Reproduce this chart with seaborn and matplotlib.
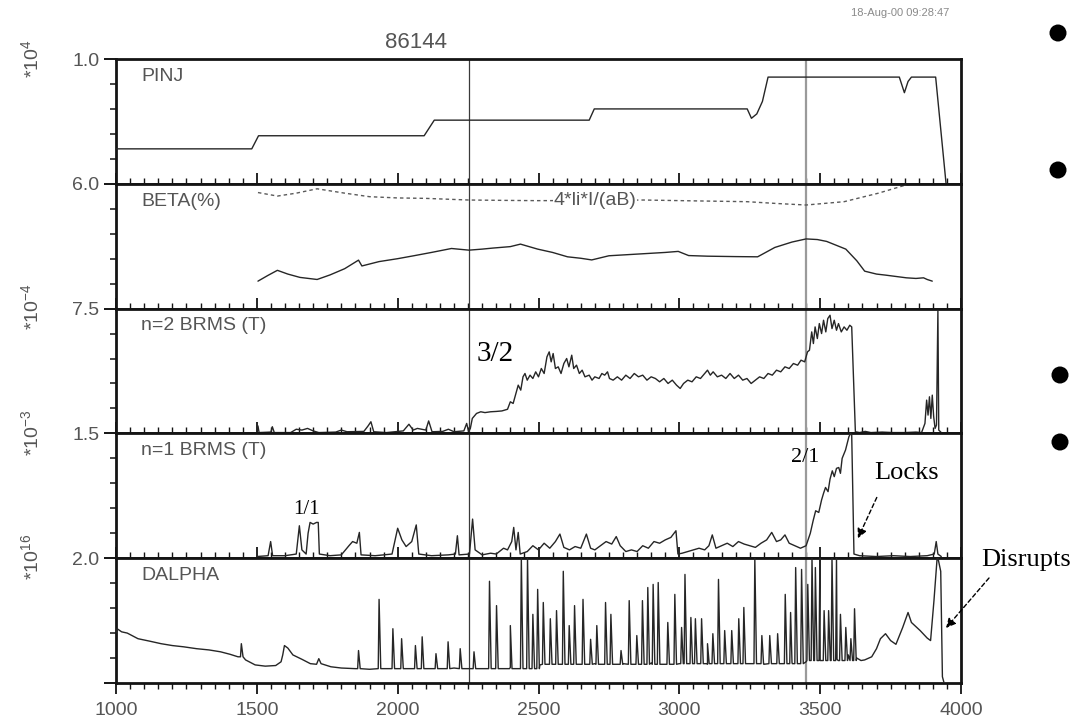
import matplotlib
matplotlib.use("Agg")
import matplotlib.pyplot as plt
from matplotlib.ticker import FixedLocator, MultipleLocator
import pandas as pd
import seaborn as sns

# ---------------- shot 86144 waveforms (time in ms) ----------------
# injected power, units of 1e4 kW
pinj_t = [1000, 1482, 1506, 2094, 2130, 2680, 2698, 3241, 3256, 3275, 3295, 3315,
          3781, 3799, 3812, 3824, 3910, 3947]
pinj_v = [0.28, 0.28, 0.385, 0.385, 0.51, 0.51, 0.60, 0.60, 0.525, 0.56, 0.66, 0.855,
          0.855, 0.73, 0.82, 0.855, 0.855, 0.0]

# beta (%)
beta_t = [1504, 1540, 1573, 1610, 1653, 1714, 1760, 1812, 1861, 1873, 1934, 2000,
          2057, 2120, 2191, 2253, 2300, 2338, 2400, 2436, 2497, 2550, 2603, 2650,
          2689, 2750, 2850, 2950, 2996, 3033, 3100, 3200, 3278, 3339, 3400, 3450,
          3490, 3523, 3591, 3630, 3658, 3700, 3732, 3806, 3840, 3867, 3880, 3898]
beta_v = [1.32, 1.60, 1.84, 1.66, 1.50, 1.40, 1.62, 1.92, 2.33, 2.05, 2.26, 2.40,
          2.54, 2.70, 2.89, 2.81, 2.86, 2.91, 2.98, 3.10, 2.86, 2.70, 2.49, 2.42,
          2.34, 2.54, 2.62, 2.70, 2.75, 2.55, 2.52, 2.50, 2.49, 2.94, 3.20, 3.35,
          3.32, 3.23, 2.86, 2.30, 1.80, 1.66, 1.61, 1.48, 1.45, 1.48, 1.40, 1.32]

# 4*li*I/(aB) reference curve
li_t = [1504, 1573, 1640, 1714, 1812, 1900, 2000, 2098, 2253, 2400, 2497, 2700,
        2873, 3050, 3240, 3350, 3450, 3585, 3707, 3806, 3880]
li_v = [5.58, 5.41, 5.55, 5.76, 5.55, 5.38, 5.32, 5.30, 5.22, 5.20, 5.19, 5.20,
        5.22, 5.18, 5.14, 5.05, 4.98, 5.14, 5.55, 5.95, 6.05]

# n=2 BRMS, units of 1e-4 T
n2_t = [1500, 1504, 1508, 1550, 1555, 1562, 1620, 1640, 1660, 1680,
        1700, 1720, 1780, 1800, 1820, 1880, 1895, 1905, 1915, 1960,
        2020, 2040, 2055, 2070, 2100, 2110, 2122, 2160, 2180, 2200,
        2235, 2245, 2252, 2258, 2265, 2280, 2295, 2310, 2330, 2350,
        2370, 2390, 2400, 2410, 2420, 2428, 2437, 2445, 2452, 2460,
        2470, 2480, 2490, 2500, 2510, 2520, 2530, 2538, 2545, 2552,
        2560, 2570, 2580, 2590, 2600, 2608, 2618, 2625, 2635, 2645,
        2655, 2665, 2680, 2690, 2700, 2715, 2725, 2735, 2745, 2752,
        2765, 2780, 2795, 2810, 2825, 2840, 2855, 2870, 2885, 2900,
        2915, 2930, 2945, 2960, 2975, 2990, 3003, 3015, 3030, 3045,
        3060, 3075, 3090, 3100, 3110, 3120, 3135, 3150, 3165, 3180,
        3195, 3210, 3225, 3240, 3255, 3270, 3285, 3300, 3315, 3330,
        3345, 3360, 3375, 3390, 3405, 3420, 3432, 3445, 3455, 3462,
        3470, 3476, 3482, 3490, 3497, 3505, 3512, 3520, 3527, 3535,
        3542, 3550, 3558, 3565, 3575, 3585, 3595, 3605, 3612, 3625,
        3640, 3660, 3680, 3720, 3760, 3800, 3840, 3860, 3872, 3878,
        3883, 3888, 3893, 3898, 3903, 3908, 3913, 3918, 3921, 3930]
n2_v = [0.05, 0.45, 0.05, 0.08, 0.40, 0.05, 0.05, 0.25, 0.20, 0.30,
        0.15, 0.05, 0.08, 0.20, 0.10, 0.12, 0.45, 0.70, 0.10, 0.05,
        0.15, 0.55, 0.20, 0.30, 0.20, 0.75, 0.10, 0.12, 0.25, 0.10,
        0.15, 0.60, 0.10, 0.30, 0.90, 1.20, 1.30, 1.25, 1.30, 1.32,
        1.35, 1.45, 1.90, 1.80, 2.40, 2.90, 2.60, 3.40, 3.60, 3.20,
        3.50, 3.30, 3.70, 3.40, 3.90, 3.60, 4.60, 4.90, 4.30, 4.80,
        3.90, 4.00, 3.60, 4.20, 4.50, 4.00, 4.70, 3.90, 4.10, 3.60,
        3.80, 3.40, 3.50, 3.20, 3.40, 3.30, 3.60, 3.50, 3.70, 3.30,
        3.20, 3.40, 3.20, 3.50, 3.30, 3.60, 3.40, 3.50, 3.20, 3.40,
        3.30, 3.10, 3.30, 3.00, 3.20, 2.90, 2.70, 3.00, 3.20, 3.10,
        3.40, 3.30, 3.60, 3.80, 3.50, 3.70, 3.40, 3.50, 3.30, 3.60,
        3.30, 3.50, 3.20, 3.30, 3.00, 3.20, 3.40, 3.30, 3.60, 3.50,
        3.80, 3.70, 4.00, 3.90, 4.20, 4.10, 4.40, 4.30, 4.90, 5.00,
        6.10, 5.40, 6.40, 5.70, 6.60, 6.00, 6.80, 6.10, 6.90, 7.10,
        6.30, 6.80, 6.20, 6.60, 6.10, 6.40, 6.20, 6.50, 6.40, 0.10,
        0.05, 0.12, 0.05, 0.08, 0.05, 0.05, 0.08, 0.05, 0.60, 2.00,
        1.10, 2.20, 0.90, 2.30, 1.00, 0.30, 0.50, 7.40, 0.20, 0.05]

# n=1 BRMS, units of 1e-3 T
n1_t = [1500, 1540, 1549, 1556, 1600, 1640, 1651, 1660, 1675, 1682,
        1689, 1700, 1712, 1718, 1722, 1760, 1800, 1827, 1840, 1855,
        1864, 1870, 1920, 1980, 2000, 2015, 2030, 2050, 2066, 2075,
        2120, 2180, 2205, 2212, 2218, 2255, 2266, 2275, 2300, 2330,
        2350, 2376, 2390, 2405, 2412, 2420, 2428, 2435, 2460, 2480,
        2500, 2520, 2540, 2560, 2576, 2590, 2610, 2630, 2650, 2670,
        2685, 2700, 2720, 2740, 2760, 2776, 2790, 2810, 2830, 2850,
        2870, 2890, 2910, 2930, 2950, 2970, 2988, 2995, 3010, 3030,
        3050, 3070, 3090, 3105, 3117, 3130, 3150, 3170, 3190, 3210,
        3230, 3250, 3270, 3290, 3310, 3328, 3345, 3360, 3375, 3390,
        3410, 3430, 3450, 3465, 3475, 3484, 3495, 3505, 3512, 3519,
        3528, 3535, 3543, 3550, 3558, 3566, 3572, 3578, 3590, 3602,
        3608, 3612, 3620, 3640, 3700, 3760, 3820, 3880, 3905, 3912,
        3918, 3930]
n1_v = [0.02, 0.03, 0.20, 0.03, 0.03, 0.05, 0.39, 0.10, 0.05, 0.30,
        0.43, 0.41, 0.43, 0.43, 0.05, 0.03, 0.04, 0.15, 0.20, 0.18,
        0.31, 0.04, 0.03, 0.05, 0.36, 0.22, 0.14, 0.20, 0.40, 0.05,
        0.03, 0.04, 0.05, 0.27, 0.04, 0.05, 0.47, 0.10, 0.04, 0.06,
        0.05, 0.12, 0.10, 0.20, 0.37, 0.10, 0.31, 0.05, 0.08, 0.15,
        0.10, 0.18, 0.12, 0.20, 0.29, 0.13, 0.10, 0.14, 0.12, 0.29,
        0.12, 0.10, 0.15, 0.20, 0.17, 0.26, 0.15, 0.08, 0.10, 0.08,
        0.15, 0.12, 0.20, 0.18, 0.22, 0.25, 0.33, 0.05, 0.06, 0.08,
        0.10, 0.12, 0.10, 0.15, 0.28, 0.12, 0.15, 0.18, 0.14, 0.20,
        0.17, 0.15, 0.13, 0.18, 0.22, 0.31, 0.20, 0.22, 0.28, 0.18,
        0.15, 0.12, 0.15, 0.30, 0.45, 0.57, 0.55, 0.70, 0.78, 0.85,
        0.80, 0.95, 1.05, 0.98, 1.08, 1.09, 1.02, 1.20, 1.30, 1.46,
        1.50, 1.48, 0.05, 0.03, 0.02, 0.03, 0.02, 0.03, 0.05, 0.20,
        0.05, 0.02]

# D-alpha, units of 1e16: slow background plus ELM spikes
dalpha_base_t = [1000, 1004, 1020, 1040, 1078, 1120, 1160, 1200, 1240, 1286,
                 1330, 1371, 1405, 1433, 1460, 1494, 1530, 1567, 1586, 1592,
                 1598, 1610, 1628, 1660, 1690, 1712, 1720, 1728, 1763, 1800,
                 1849, 1900, 2000, 2100, 2200, 2300, 2400, 2505, 2600, 2700,
                 2800, 2900, 3000, 3100, 3200, 3300, 3400, 3450, 3500, 3560,
                 3600, 3630, 3645, 3658, 3683, 3700, 3714, 3732, 3750, 3769,
                 3793, 3812, 3824, 3855, 3880, 3892, 3904, 3916, 3928, 3934,
                 3940]
dalpha_base_v = [0.80, 0.87, 0.82, 0.80, 0.71, 0.67, 0.63, 0.60, 0.58, 0.55,
                 0.53, 0.50, 0.46, 0.42, 0.37, 0.29, 0.27, 0.28, 0.34, 0.45,
                 0.60, 0.56, 0.45, 0.38, 0.31, 0.30, 0.39, 0.31, 0.26, 0.24,
                 0.23, 0.22, 0.23, 0.23, 0.24, 0.23, 0.25, 0.29, 0.30, 0.31,
                 0.31, 0.32, 0.31, 0.30, 0.31, 0.30, 0.33, 0.34, 0.36, 0.38,
                 0.45, 0.40, 0.36, 0.37, 0.42, 0.55, 0.71, 0.79, 0.68, 0.62,
                 0.89, 1.13, 0.97, 0.84, 0.72, 0.68, 1.32, 2.05, 1.79, 0.10,
                 0.0]
spike_t = [1445, 1861, 1934, 1983, 2014, 2063, 2087, 2136, 2179, 2222,
           2271, 2326, 2351, 2400, 2439, 2461, 2480, 2497, 2517, 2542,
           2564, 2588, 2609, 2628, 2658, 2685, 2707, 2738, 2757, 2793,
           2822, 2849, 2869, 2888, 2907, 2925, 2959, 2984, 3008, 3020,
           3041, 3057, 3079, 3100, 3119, 3139, 3161, 3186, 3211, 3229,
           3268, 3293, 3321, 3349, 3376, 3395, 3413, 3434, 3456, 3471,
           3483, 3499, 3514, 3530, 3542, 3558, 3572, 3591, 3609, 3622]
spike_peak = [0.63, 0.52, 1.34, 0.87, 0.71, 0.60, 0.74, 0.47, 0.66, 0.55,
              0.50, 1.63, 1.24, 0.92, 2.00, 2.00, 1.10, 1.50, 1.29, 1.03,
              1.16, 1.79, 0.92, 1.24, 1.34, 0.70, 0.92, 1.29, 1.10, 0.52,
              1.32, 0.76, 1.32, 1.53, 1.58, 1.61, 0.97, 1.42, 0.89, 1.74,
              1.05, 1.03, 1.03, 0.63, 0.79, 1.66, 0.84, 0.84, 1.03, 1.21,
              2.00, 0.76, 0.76, 0.79, 1.42, 1.13, 1.85, 1.82, 1.58, 2.00,
              1.85, 2.00, 1.16, 1.16, 2.00, 2.00, 1.10, 0.89, 0.71, 1.19]
spike_foot = [0.42, 0.23, 0.23, 0.23, 0.23, 0.23, 0.23, 0.23, 0.23, 0.23,
              0.23, 0.23, 0.23, 0.23, 0.23, 0.23, 0.23, 0.23, 0.30, 0.30,
              0.30, 0.30, 0.30, 0.30, 0.30, 0.30, 0.30, 0.30, 0.30, 0.30,
              0.30, 0.30, 0.30, 0.30, 0.30, 0.30, 0.30, 0.30, 0.31, 0.31,
              0.31, 0.31, 0.31, 0.31, 0.31, 0.31, 0.31, 0.31, 0.31, 0.31,
              0.31, 0.31, 0.31, 0.31, 0.31, 0.31, 0.31, 0.31, 0.36, 0.36,
              0.36, 0.36, 0.36, 0.36, 0.36, 0.36, 0.36, 0.36, 0.36, 0.36]

panel_names = ["PINJ", "BETA(%)", "n=2 BRMS (T)", "n=1 BRMS (T)", "DALPHA"]
panel_top = [1.0, 6.0, 7.5, 1.5, 2.0]
top_labels = ["1.0", "6.0", "7.5", "1.5", "2.0"]
x_ticks = [1000, 1500, 2000, 2500, 3000, 3500, 4000]
marker_times = [2253, 3450]

# ---------------- assemble traces ----------------
dalpha_pts = list(zip(dalpha_base_t, dalpha_base_v))
for t, p, f in zip(spike_t, spike_peak, spike_foot):
    dalpha_pts += [(t - 3, f), (t, p), (t + 6, f)]
dalpha_pts.sort()
dalpha = pd.DataFrame(dalpha_pts, columns=["t", "v"])

traces = [
    pd.DataFrame({"t": pinj_t, "v": pinj_v}),
    pd.DataFrame({"t": beta_t, "v": beta_v}),
    pd.DataFrame({"t": n2_t, "v": n2_v}),
    pd.DataFrame({"t": n1_t, "v": n1_v}),
    dalpha,
]

# ---------------- figure ----------------
sns.set_theme(style="white")
plt.rcParams["font.family"] = ["Liberation Sans", "DejaVu Sans"]
plt.rcParams["mathtext.default"] = "regular"

W, H = 1082, 725
fig = plt.figure(figsize=(W / 100, H / 100), dpi=100)
fig.patch.set_facecolor("white")

left_px, right_px, top_px, bot_px = 116, 961, 59, 683
ph = (bot_px - top_px) / 5
grey_txt = "#555555"
ink = "#262626"
frame = "#141414"

axes = []
for i in range(5):
    rect = [left_px / W, 1 - (top_px + (i + 1) * ph) / H,
            (right_px - left_px) / W, ph / H]
    ax = fig.add_axes(rect)
    axes.append(ax)
    ax.set_facecolor("white")
    ax.set_xlim(1000, 4000)
    ax.set_ylim(0, panel_top[i])

    for sp in ax.spines.values():
        sp.set_visible(True)
        sp.set_linewidth(2.0)
        sp.set_color(frame)

    # y: labelled tick at the panel top, four small ticks below
    major = [panel_top[i]] if i < 4 else [0.0, panel_top[i]]
    ax.yaxis.set_major_locator(FixedLocator(major))
    ax.set_yticklabels([top_labels[i]] if i < 4 else ["", top_labels[i]])
    ax.yaxis.set_minor_locator(FixedLocator([panel_top[i] * k / 5 for k in range(1, 5)]))
    ax.tick_params(axis="y", which="major", left=True, right=False, direction="out",
                   length=9, width=1.4, color=frame, labelsize=14,
                   labelcolor=grey_txt, pad=3)
    ax.tick_params(axis="y", which="minor", left=True, right=False, direction="out",
                   length=4, width=1.1, color=frame)

    # x: 500 ms major, 50 ms minor ticks
    ax.xaxis.set_major_locator(FixedLocator(x_ticks))
    ax.xaxis.set_minor_locator(MultipleLocator(50))
    last = i == 4
    ax.tick_params(axis="x", which="major", bottom=True, top=False,
                   direction="out" if last else "in", length=8, width=1.3,
                   color=frame, labelbottom=last, labelsize=14,
                   labelcolor=grey_txt, pad=6)
    ax.tick_params(axis="x", which="minor", bottom=True, top=False,
                   direction="out" if last else "in", length=4, width=1.0,
                   color=frame)
    ax.set_xlabel("")
    ax.set_ylabel("")

    ax.axvline(marker_times[0], color="#3a3a3a", lw=0.9, zorder=1)
    ax.axvline(marker_times[1], color="#9a9a9a", lw=1.6, zorder=1)

    sns.lineplot(data=traces[i], x="t", y="v", ax=ax, color=ink, lw=1.0,
                 estimator=None, sort=False, legend=False, zorder=3)
    ax.set_xlabel("")
    ax.set_ylabel("")

    ax.text(0.03, 0.93, panel_names[i], transform=ax.transAxes, ha="left",
            va="top", fontsize=14, color=grey_txt)

axes[4].set_xticklabels([str(v) for v in x_ticks])

# dashed 4*li*I/(aB) curve in the beta panel
sns.lineplot(x=li_t, y=li_v, ax=axes[1], color="#5a5a5a", lw=1.0,
             linestyle=(0, (2.5, 2.2)), estimator=None, sort=False, legend=False,
             zorder=2)
axes[1].set_ylim(0, panel_top[1])
axes[1].text(2700, 5.22, "4*li*I/(aB)", ha="center", va="center", fontsize=14,
             color=grey_txt, zorder=4,
             bbox=dict(facecolor="white", edgecolor="none", pad=0.5))

# mode annotations
serif = ["Liberation Serif", "DejaVu Serif"]
axes[2].text(2281, 4.76, "3/2", ha="left", va="center", fontsize=21,
             family=serif, color="black", zorder=5)
axes[3].text(1676, 0.59, "1/1", ha="center", va="center", fontsize=15,
             family=serif, color="black", zorder=5)
axes[3].text(3448, 1.21, "2/1", ha="center", va="center", fontsize=16,
             family=serif, color="black", zorder=5)
axes[3].text(3807, 1.02, "Locks", ha="center", va="center", fontsize=19,
             family=serif, color="black", zorder=5)
axes[3].annotate("", xy=(3634, 0.24), xytext=(3701, 0.73),
                 arrowprops=dict(arrowstyle="-|>", color="black", lw=1.0,
                                 linestyle=(0, (3, 2)), mutation_scale=14,
                                 shrinkA=0, shrinkB=0), zorder=5)

# figure-level labels in pixel coordinates
ov = fig.add_axes([0, 0, 1, 1], facecolor="none")
ov.set_xlim(0, W)
ov.set_ylim(H, 0)
ov.axis("off")

ov.text(416, 42, "86144", ha="center", va="center", fontsize=16, color=grey_txt)
ov.text(900, 13, "18-Aug-00 09:28:47", ha="center", va="center", fontsize=8,
        color="#8a8a8a")

exp_labels = ["*10$^{4}$", "*10$^{-4}$", "*10$^{-3}$", "*10$^{16}$"]
exp_y = [59, 307, 433, 557]
for lab, y in zip(exp_labels, exp_y):
    ov.text(31, y, lab, rotation=90, ha="center", va="center", fontsize=14,
            color=grey_txt)

ov.text(981, 560, "Disrupts", ha="left", va="center", fontsize=19,
        family=serif, color="black")
ov.annotate("", xy=(946, 628), xytext=(989, 578),
            arrowprops=dict(arrowstyle="-|>", color="black", lw=1.0,
                            linestyle=(0, (3, 2)), mutation_scale=14,
                            shrinkA=0, shrinkB=0))

ov.scatter([1058, 1058, 1060, 1060], [33, 170, 375, 442], s=150, color="black",
           edgecolors="none")

fig.savefig("out.png", dpi=100, facecolor="white")
